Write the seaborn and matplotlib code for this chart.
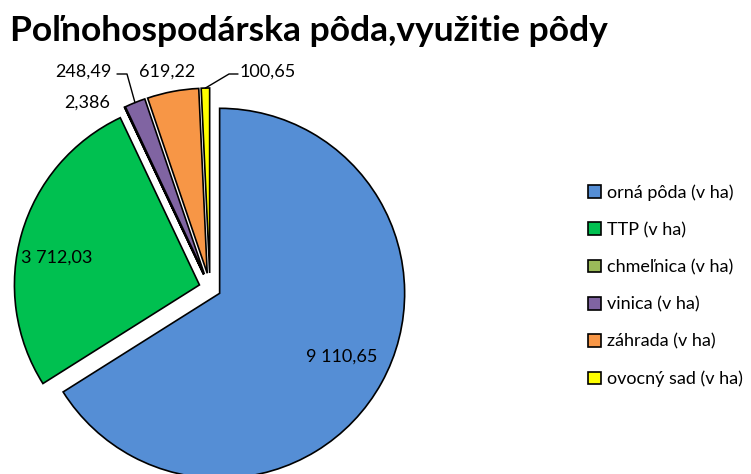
import matplotlib
matplotlib.use("Agg")
import matplotlib.pyplot as plt
import seaborn as sns
import numpy as np

sns.set_style("white")
plt.rcParams['font.family'] = ['Lato', 'DejaVu Sans']
plt.rcParams['text.color'] = 'black'

# ---- data ----
categories = ["orná pôda (v ha)", "TTP (v ha)", "chmeľnica (v ha)",
              "vinica (v ha)", "záhrada (v ha)", "ovocný sad (v ha)"]
values = [9110.65, 3712.03, 2.386, 248.49, 619.22, 100.65]
value_labels = ["9 110,65", "3 712,03", "2,386", "248,49", "619,22", "100,65"]
colors = ["#558ED5", "#00C050", "#9BBB59", "#8064A2", "#F79646", "#FFFF00"]

W, H = 751, 474
fig = plt.figure(figsize=(W / 100, H / 100), dpi=100)
ax = fig.add_axes([0, 0, 1, 1])

# explode is in data units here (pixel-like)
wedges, _ = ax.pie(values, colors=colors, center=(210, 186), radius=185,
                   startangle=90, counterclock=False,
                   explode=[11, 11, 15, 15, 15, 15],
                   wedgeprops=dict(edgecolor="black", linewidth=1.2))
# pie() resets the limits, so set pixel-like coordinates afterwards (y up)
ax.set_xlim(0, W)
ax.set_ylim(0, H)
ax.set_aspect("equal")
ax.axis("off")


def outer_point(w, frac=0.5):
    ang = np.deg2rad(w.theta1 + frac * (w.theta2 - w.theta1))
    return w.center[0] + w.r * np.cos(ang), w.center[1] + w.r * np.sin(ang)


lbl_pos = [(342, 117), (57, 216), (87, 371), (83, 402), (167, 402), (268, 402)]
for w, txt, pos in zip(wedges, value_labels, lbl_pos):
    ax.text(pos[0], pos[1], txt, ha="center", va="center", fontsize=13)

# leader lines: text edge -> short horizontal -> slice
tx, ty = outer_point(wedges[3])
ax.plot([117, 127, tx], [400, 400, ty], color="black", lw=1)
tx, ty = outer_point(wedges[5])
ax.plot([238, 229, tx], [400, 400, ty], color="black", lw=1)

fig.text(0.013, 0.913, "Poľnohospodárska pôda,využitie pôdy", fontsize=25.5,
         fontweight="bold", ha="left", va="baseline")

fig.legend(wedges, categories, loc="center left", bbox_to_anchor=(0.774, 0.397),
           frameon=False, fontsize=13, handlelength=0.7, handleheight=0.7,
           handletextpad=0.3, labelspacing=1.17, borderaxespad=0)

fig.savefig("out.png", dpi=100)
